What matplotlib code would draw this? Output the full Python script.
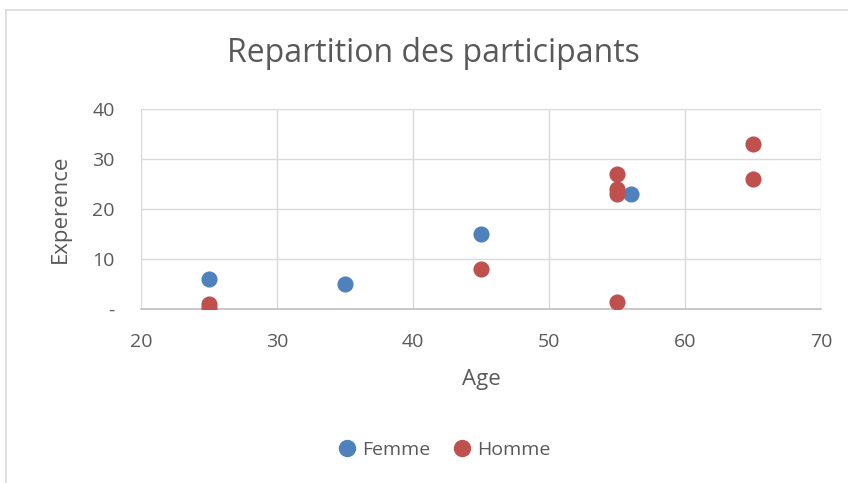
import matplotlib
matplotlib.use("Agg")
import matplotlib.pyplot as plt
from matplotlib.lines import Line2D

femme_age = [25, 35, 45, 56]
femme_exp = [6, 5, 15, 23]
homme_age = [25, 25, 45, 55, 55, 55, 55, 65, 65]
homme_exp = [1, 0.2, 8, 27, 24, 23, 1.5, 33, 26]

xticks = [20, 30, 40, 50, 60, 70]
yticks = [0, 10, 20, 30, 40]
ytick_labels = ["-", "10", "20", "30", "40"]

plt.rcParams['font.family'] = ['Open Sans', 'DejaVu Sans']
W, H = 848, 483
fig = plt.figure(figsize=(W/100, H/100), dpi=100)
ax = fig.add_axes([141/W, 1-309/H, (821-141)/W, (309-109)/H])

blue = "#4f81bd"
red = "#c0504d"
txt = "#595959"

ax.scatter(femme_age, femme_exp, s=135, color=blue, zorder=3, linewidths=0, label="Femme")
ax.scatter(homme_age, homme_exp, s=135, color=red, zorder=3, linewidths=0, label="Homme")

ax.set_xlim(20, 70)
ax.set_ylim(0, 40)
ax.set_xticks(xticks)
ax.set_yticks(yticks)
ax.set_yticklabels(ytick_labels)
ax.grid(True, color="#d9d9d9", linewidth=1)
ax.set_axisbelow(True)
for s in ["top", "right", "left"]:
    ax.spines[s].set_visible(False)
ax.spines["bottom"].set_color("#bfbfbf")
ax.spines["bottom"].set_linewidth(1.2)
ax.tick_params(length=0, labelsize=14, colors=txt)
ax.tick_params(axis='x', pad=17)
ax.tick_params(axis='y', pad=19)
ax.set_xlabel("Age", fontsize=16, color=txt, ha="center", va="center")
ax.set_ylabel("Experence", fontsize=16, color=txt, ha="center", va="center")
ax.xaxis.set_label_coords(0.5, (309-380)/200)
ax.yaxis.set_label_coords((60-141)/680, 0.5)

fig.text(433/W, 1-53/H, "Repartition des participants", fontsize=23, color=txt,
         ha="center", va="center")

handles = [Line2D([], [], marker='o', linestyle='', color=blue, markersize=11.5, label="Femme"),
           Line2D([], [], marker='o', linestyle='', color=red, markersize=11.5, label="Homme")]
fig.legend(handles=handles, loc="center", bbox_to_anchor=(439/W, 1-450/H), ncol=2,
           frameon=False, fontsize=14, handletextpad=-0.2, columnspacing=0.6,
           labelcolor=txt)

# chart border
fig.add_artist(Line2D([6/W, 6/W], [1-10/H, 0], transform=fig.transFigure, color="#d9d9d9", linewidth=1.2))
fig.add_artist(Line2D([6/W, 1], [1-10/H, 1-10/H], transform=fig.transFigure, color="#d9d9d9", linewidth=1.2))

fig.savefig("out.png", dpi=100)
